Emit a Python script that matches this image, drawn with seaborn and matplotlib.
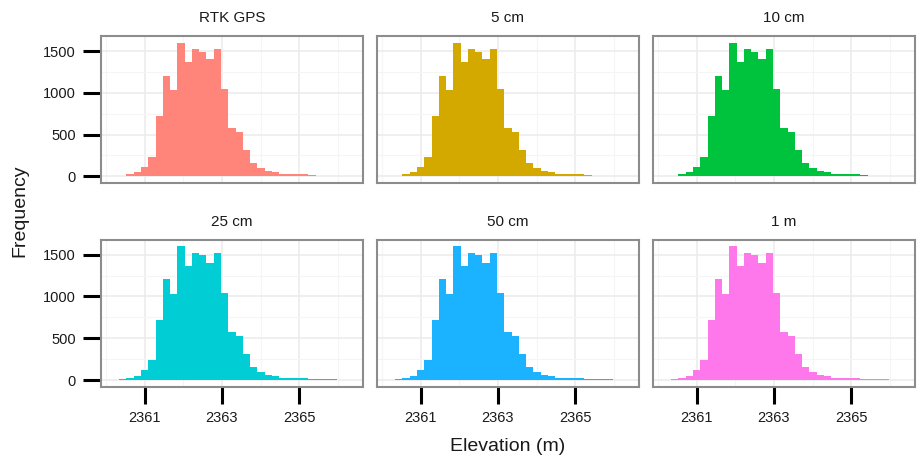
import numpy as np
import pandas as pd
import matplotlib
matplotlib.use("Agg")
import matplotlib.pyplot as plt
from matplotlib.ticker import MultipleLocator
import seaborn as sns

# Surface resolutions compared
resolutions = ["RTK GPS", "5 cm", "10 cm", "25 cm", "50 cm", "1 m"]
panel_colors = ["#FF857A", "#D3A900", "#00C33D", "#00CDD4", "#1BB2FF", "#FF78EB"]

# Elevation histogram: first bin edge, bin width (m) and counts per bin
bin_start = 2360.34
bin_width = 0.1883
counts = [8, 28, 52, 115, 235, 724, 1206, 1031, 1600, 1365,
          1520, 1492, 1401, 1520, 1043, 573, 529, 310, 159, 95,
          60, 48, 24, 22, 22, 22, 16, 8, 8, 8]

x_ticks = [2361, 2363, 2365]
y_ticks = [0, 500, 1000, 1500]

edges = [float(e) for e in bin_start + bin_width * np.arange(len(counts) + 1)]
centers = [(a + b) / 2 for a, b in zip(edges[:-1], edges[1:])]
frames = [pd.DataFrame({"elevation": centers, "count": counts, "surface": r})
          for r in resolutions]
df = pd.concat(frames, ignore_index=True)

sns.set_theme(style="white")
plt.rcParams["font.family"] = ["Liberation Sans", "DejaVu Sans"]

fig, axes = plt.subplots(2, 3, figsize=(9.17, 4.58), dpi=100, sharex=True, sharey=True)
fig.subplots_adjust(left=0.1101, right=0.9978, bottom=0.1557, top=0.9214,
                    wspace=0.0534, hspace=0.386)

for i, (ax, name, col) in enumerate(zip(axes.flat, resolutions, panel_colors)):
    sub = df[df["surface"] == name]
    sns.histplot(data=sub, x="elevation", weights="count", bins=edges,
                 element="step", fill=True, color=col, alpha=1, linewidth=0,
                 ax=ax)
    ax.set_xlim(2359.87, 2366.65)
    ax.set_ylim(-80, 1680)
    ax.set_xticks(x_ticks)
    ax.set_yticks(y_ticks)
    ax.xaxis.set_minor_locator(MultipleLocator(1))
    ax.yaxis.set_minor_locator(MultipleLocator(250))
    ax.set_axisbelow(True)
    ax.grid(which="major", color="#EBEBEB", linewidth=1.1)
    ax.grid(which="minor", color="#F5F5F5", linewidth=0.8)
    for s in ax.spines.values():
        s.set_visible(True)
        s.set_color("#8C8C8C")
        s.set_linewidth(1.5)
    ax.set_xlabel("")
    ax.set_ylabel("")
    ax.set_title(name, fontsize=11, pad=10, color="#1A1A1A")
    ax.tick_params(which="minor", length=0, bottom=False, left=False)
    row, colidx = divmod(i, 3)
    ax.tick_params(which="major", axis="x", bottom=(row == 1), labelbottom=(row == 1),
                   length=12.5, width=2.2, color="black", labelsize=10.5,
                   labelcolor="#1A1A1A", pad=5)
    ax.tick_params(which="major", axis="y", left=(colidx == 0), labelleft=(colidx == 0),
                   length=13, width=2.2, color="black", labelsize=10.5,
                   labelcolor="#1A1A1A", pad=5)

fig.text(0.5535, 0.026, "Elevation (m)", ha="center", va="center", fontsize=14,
         color="#1A1A1A")
fig.text(0.022, 0.54, "Frequency", ha="center", va="center", rotation=90,
         fontsize=14, color="#1A1A1A")

fig.savefig("out.png", dpi=100, facecolor="white")
